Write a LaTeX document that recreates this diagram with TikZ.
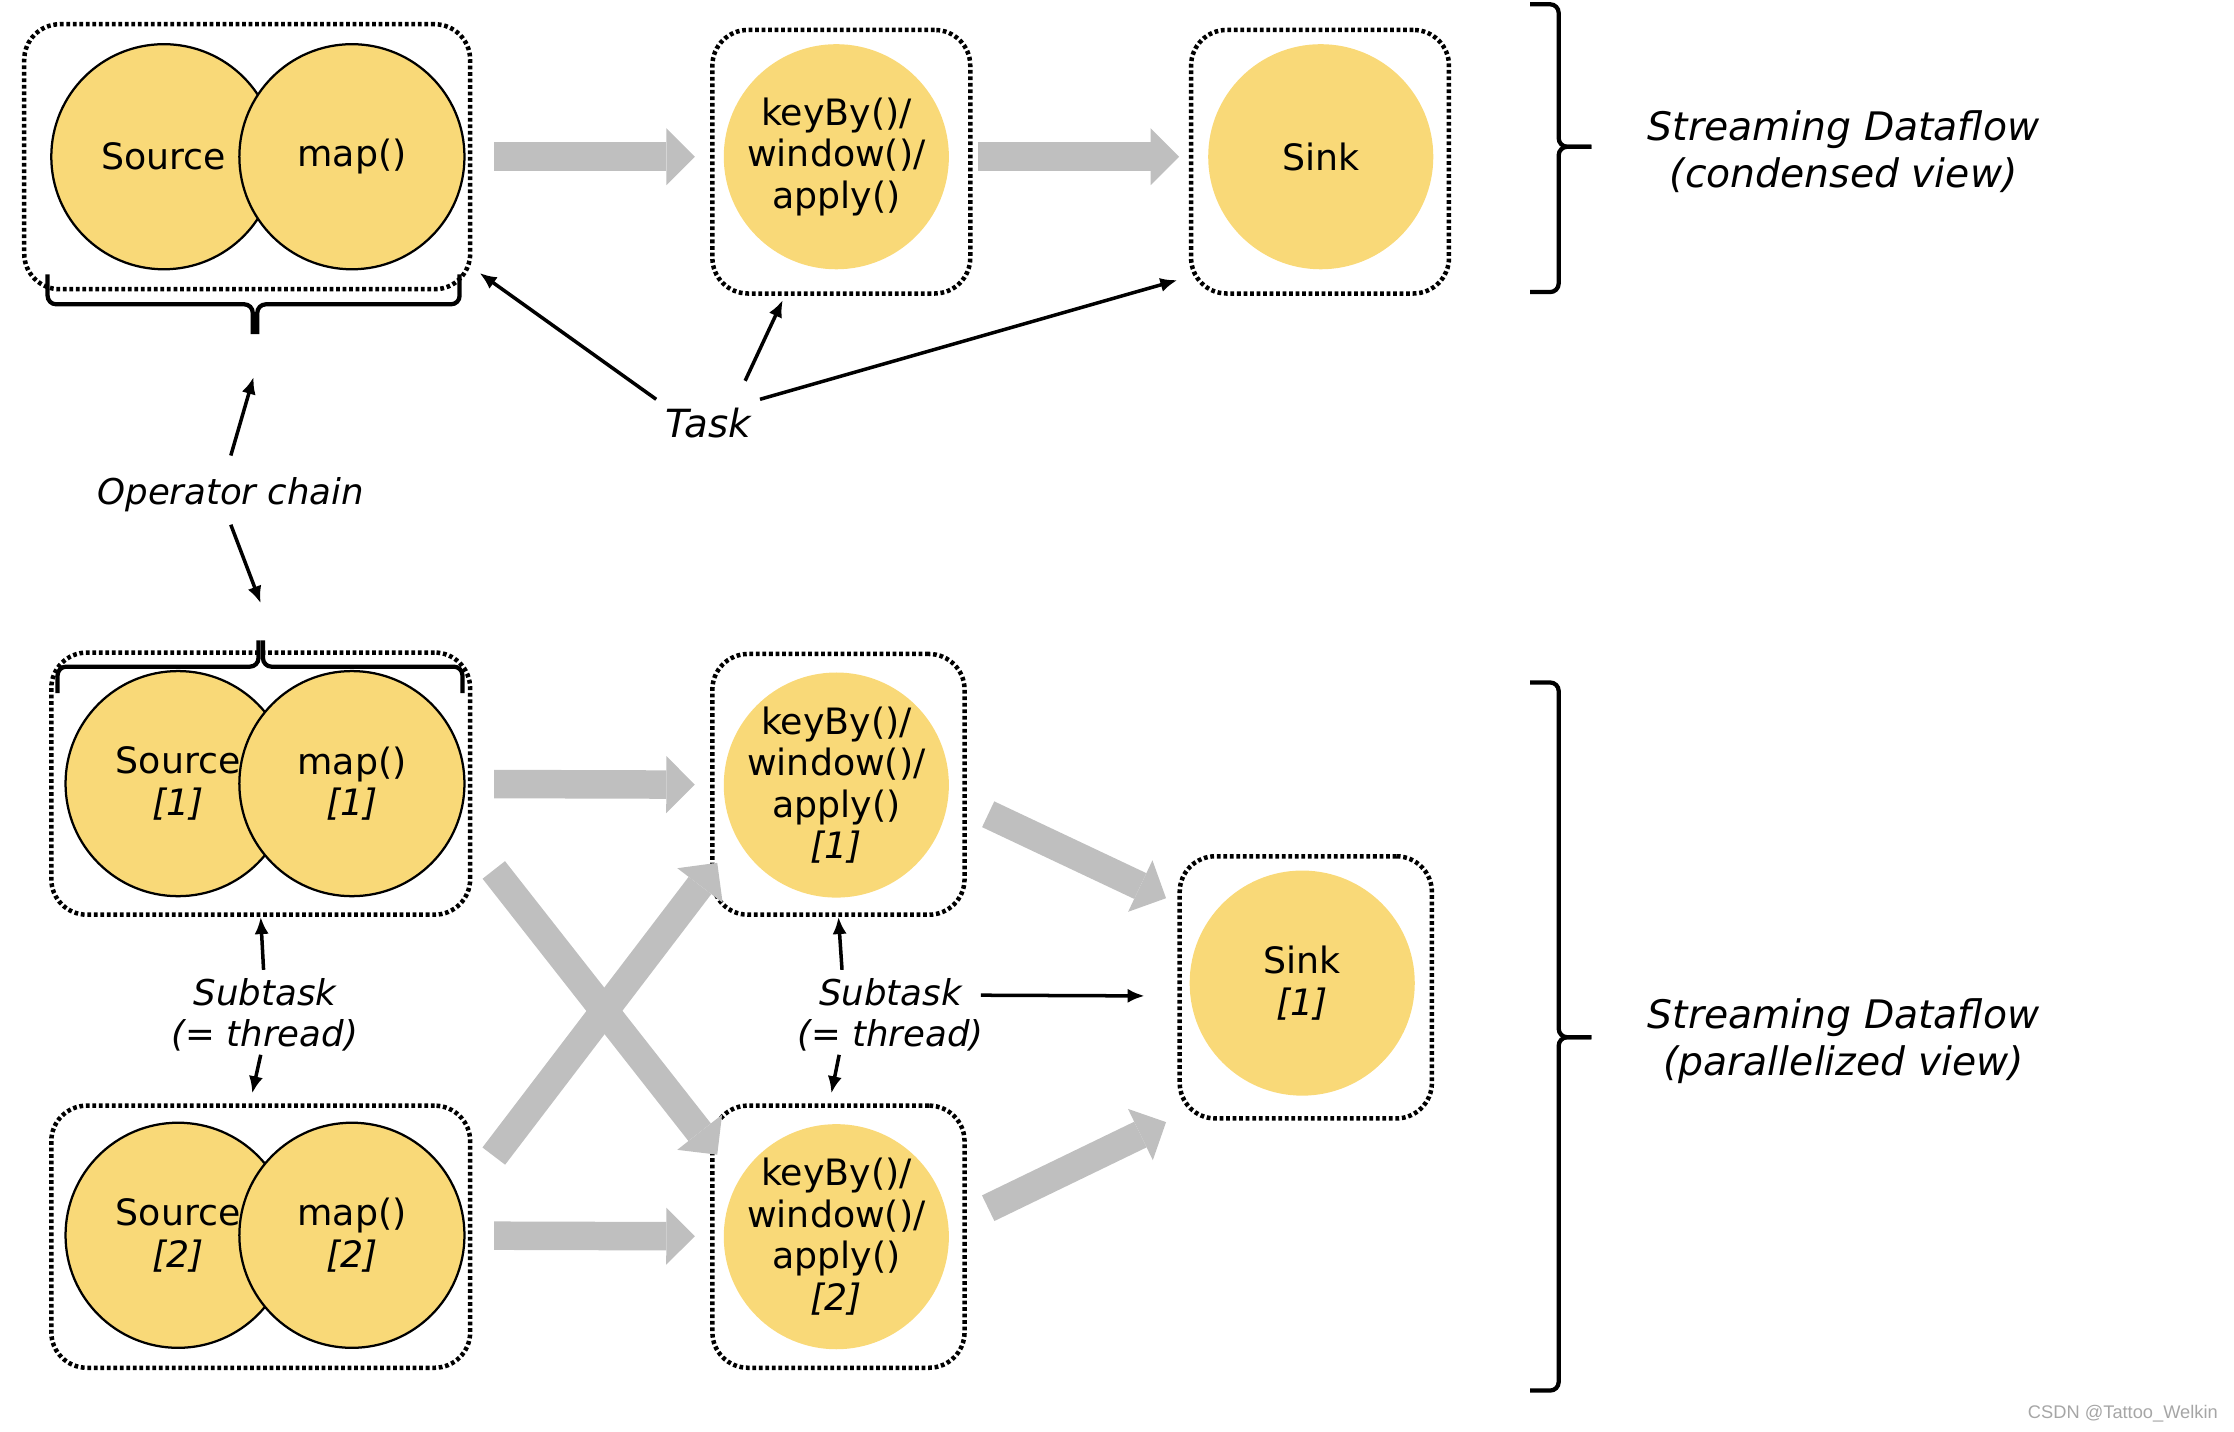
\documentclass[tikz,border=0pt]{standalone}
\usepackage{fontspec}
\setmainfont{DejaVu Sans}
\newfontfamily\markfont{Liberation Sans}
\usetikzlibrary{arrows.meta, positioning}
\usepackage{xcolor}
\definecolor{opyellow}{RGB}{249,217,120}
\definecolor{flowgray}{RGB}{191,191,191}
\def\px{0.02cm}

\begin{document}
\begin{tikzpicture}[x=\px, y=-\px, >={Latex[length=0.24cm,width=0.2cm]}]
    \tikzstyle{operator}=[circle, fill=opyellow, minimum size=158*\px, inner sep=-0.2cm, align=center, font=\fontsize{14.5}{16.6}\selectfont]
    \tikzstyle{chained operator}=[operator, draw=black, line width=0.9pt]
    \tikzstyle{task box}=[rectangle, draw=black, line width=1.8pt, dash pattern=on 1.5pt off 1.1pt, rounded corners=0.5cm, inner sep=0pt]
    \tikzstyle{flow}=[draw=flowgray, line width=0.4cm, -{Triangle[width=0.8cm,length=0.4cm,line width=0pt]}]
    \tikzstyle{gap}=[shorten <=0.4cm, shorten >=0.4cm]
    \tikzstyle{pointer}=[draw=black, line width=1.4pt, ->]
    \tikzstyle{grouping}=[draw=black, line width=1.7pt, rounded corners=0.12cm]
    \tikzstyle{annot}=[align=center, font=\itshape\fontsize{14.2}{16.5}\selectfont]
    \tikzstyle{view}=[align=center, font=\itshape\fontsize{15.7}{18.8}\selectfont]

    \useasboundingbox (0,0) rectangle (1568,1005);

    % Draw the task boxes
    \foreach \name / \x / \y / \w / \h in {A/173.5/110/313/186, B/590.5/113.5/181/185, C/926.5/113.5/181/185,
        D/183/550/294/184, E/588.5/550.5/177/183, F/183/868/294/184, G/588.5/868/177/184, H/916.5/693/177/184}
        \node[task box, minimum width=\w*\px, minimum height=\h*\px] (\name) at (\x,\y) {};

    % Draw the operators (condensed view)
    \node[chained operator] (src) at (115,110) {Source};
    \node[chained operator] (map) at (247,110) {map()};
    \node[operator] (key) at (587,110) {keyBy()/\\window()/\\apply()};
    \node[operator] (sink) at (927,110) {Sink};

    % Draw the operators (parallelized view)
    \foreach \i / \y in {1/550, 2/867} {
        \node[chained operator] (src-\i) at (125,\y) {Source\\\textit{[\i]}};
        \node[chained operator] (map-\i) at (247,\y) {map()\\\textit{[\i]}};
        \node[operator] (key-\i) at (587,\y+1) {keyBy()/\\window()/\\apply()\\\textit{[\i]}};
    }
    \node[operator] (sink-1) at (914,690) {Sink\\\textit{[1]}};

    % Connect the operators
    \draw[flow, gap] (map) -- (key);
    \draw[flow, gap] (key) -- (sink);
    \foreach \i in {1,2}
        \draw[flow, gap] (map-\i) -- (key-\i);
    \draw[flow] ([shift={(15,-33)}]D.south east) -- ([shift={(5,36)}]G.north west);
    \draw[flow] ([shift={(15,37)}]F.north east) -- ([shift={(5,-38)}]E.south west);
    \draw[flow] ([shift={(15,21)}]E.east) -- ([shift={(-8,31)}]H.north west);
    \draw[flow] ([shift={(15,-20)}]G.east) -- ([shift={(-8,1)}]H.south west);

    % Braces
    \draw[grouping] ([shift={(18,-12)}]A.south west) -- ++(0,21) -- ++(144,0) -- ++(0,21);
    \draw[grouping] ([shift={(-9,-12)}]A.south east) -- ++(0,21) -- ++(-142,0) -- ++(0,21);
    \draw[grouping] ([shift={(6,30)}]D.north west) -- ++(0,-18.5) -- ++(141,0) -- ++(0,-18.5);
    \draw[grouping] ([shift={(-7,30)}]D.north east) -- ++(0,-18.5) -- ++(-140,0) -- ++(0,-18.5);
    \draw[grouping] (1074,3) -- ++(20,0) -- ++(0,100) -- ++(23,0);
    \draw[grouping] (1074,205) -- ++(20,0) -- ++(0,-102) -- ++(23,0);
    \draw[grouping] (1074,479) -- ++(20,0) -- ++(0,249) -- ++(23,0);
    \draw[grouping] (1074,976) -- ++(20,0) -- ++(0,-248) -- ++(23,0);

    % Annotate
    \node[font=\itshape\fontsize{15.5}{18}\selectfont] (task) at (497,297) {Task};
    \draw[pointer] (task.north west) -- ([shift={(5,-13)}]A.south east);
    \draw[pointer] ([shift={(26,-13)}]task.north) -- ([shift={(51,3)}]B.south west);
    \draw[pointer] (task.north east) -- ([shift={(-8,-11)}]C.south west);

    \node[annot] (chain) at (162,347) {Operator chain};
    \draw[pointer] ([shift={(0,-9)}]chain.north) -- ([shift={(4.5,60)}]A.south);
    \draw[pointer] ([shift={(0,3)}]chain.south) -- ([shift={(0,-33)}]D.north);

    \node[annot] (sub-src) at (186,712.5) {Subtask\\(= thread)};
    \node[annot] (sub-key) at (625,712.5) {Subtask\\(= thread)};
    \draw[pointer] ([shift={(-1,0)}]sub-src.north) -- (D.south);
    \draw[pointer] ([shift={(-3,-4)}]sub-src.south) -- ([shift={(-6,-7)}]F.north);
    \draw[pointer] ([shift={(-34,0)}]sub-key.north) -- (E.south);
    \draw[pointer] ([shift={(-36,-4)}]sub-key.south) -- ([shift={(-5,-7)}]G.north);
    \draw[pointer] ([shift={(-8,-14)}]sub-key.east) -- ([shift={(-23,6)}]H.west);

    \node[view] (condensed) at (1294,106.5) {Streaming Dataflow\\(condensed view)};
    \node[view] (parallel) at (1294,731) {Streaming Dataflow\\(parallelized view)};

    \node[font=\markfont\fontsize{7.3}{9}\selectfont, text=black!35] (mark) at (1490,992) {CSDN @Tattoo\_Welkin};

\end{tikzpicture}
\end{document}
